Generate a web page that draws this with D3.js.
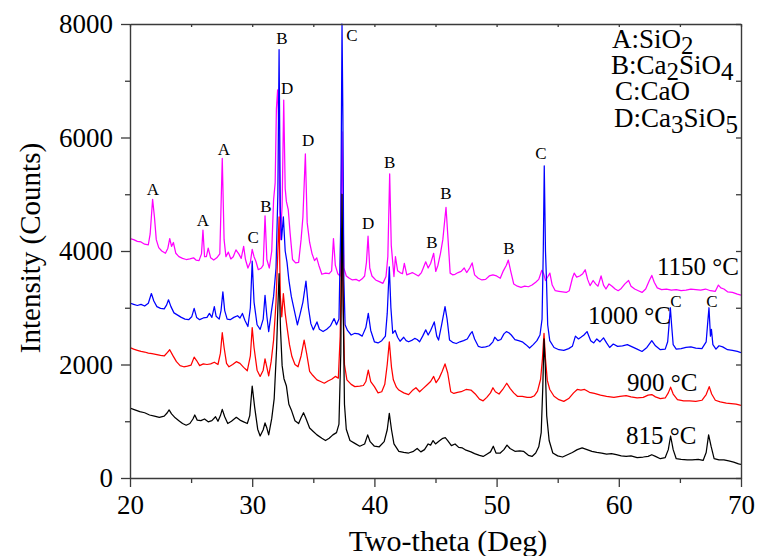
<!DOCTYPE html>
<html>
<head>
<meta charset="utf-8">
<script src="https://cdn.jsdelivr.net/npm/d3@7/dist/d3.min.js"></script>
<style>
  html, body { margin: 0; padding: 0; background: #fff; }
  svg { display: block; font-family: "Liberation Serif", "Times New Roman", serif; }
</style>
</head>
<body>
<svg id="chart" width="757" height="556"></svg>
<script>
// XRD patterns of samples calcined at different temperatures: [2-theta (deg), intensity (counts)]
const s815 = [[20.0,1230],[20.4,1200],[20.8,1170],[21.2,1150],[21.6,1110],[22.0,1090],[22.4,1070],[22.8,1090],[23.05,1150],[23.2,1200],[23.4,1130],[23.7,1060],[24.0,1010],[24.3,960],[24.6,930],[24.9,960],[25.15,1040],[25.3,1110],[25.5,1020],[25.8,1010],[26.1,1040],[26.4,990],[26.7,1010],[27.0,1080],[27.2,1000],[27.4,1100],[27.55,1210],[27.75,1080],[28.0,960],[28.3,1000],[28.7,1070],[29.0,1020],[29.3,990],[29.6,960],[29.8,1100],[30.0,1620],[30.2,1250],[30.45,860],[30.65,740],[30.9,850],[31.05,970],[31.2,880],[31.35,760],[31.6,1050],[31.8,1400],[32.0,2300],[32.1,3000],[32.2,3600],[32.32,2600],[32.45,1980],[32.6,1750],[32.8,1620],[33.0,1300],[33.2,1200],[33.5,1010],[33.8,960],[34.0,1060],[34.2,1150],[34.4,1050],[34.7,880],[35.0,820],[35.3,760],[35.7,700],[36.0,660],[36.3,700],[36.6,760],[36.9,800],[37.1,950],[37.25,2200],[37.35,5000],[37.45,3000],[37.55,1300],[37.7,860],[38.0,660],[38.4,610],[38.8,560],[39.2,600],[39.45,760],[39.65,640],[40.0,560],[40.4,550],[40.8,640],[41.05,850],[41.22,1140],[41.4,850],[41.6,600],[42.0,470],[42.4,450],[42.8,440],[43.2,470],[43.5,520],[43.8,460],[44.1,500],[44.4,600],[44.6,580],[44.8,660],[45.0,600],[45.3,650],[45.6,700],[45.8,710],[46.0,660],[46.3,570],[46.6,600],[46.9,540],[47.2,530],[47.5,490],[47.9,460],[48.2,430],[48.6,400],[48.9,380],[49.2,420],[49.5,460],[49.73,560],[49.95,440],[50.3,440],[50.6,500],[50.85,580],[51.1,520],[51.5,470],[51.9,480],[52.2,470],[52.6,400],[52.9,380],[53.2,440],[53.45,550],[53.65,800],[53.78,1600],[53.88,2450],[53.98,2000],[54.1,1100],[54.3,660],[54.6,440],[55.0,390],[55.4,370],[55.8,410],[56.2,450],[56.6,500],[57.0,530],[57.4,500],[57.8,470],[58.2,450],[58.6,440],[59.0,420],[59.4,430],[59.8,410],[60.2,390],[60.6,380],[61.0,390],[61.5,360],[62.0,370],[62.4,380],[62.7,410],[63.0,380],[63.4,340],[63.8,360],[64.05,500],[64.24,740],[64.45,500],[64.7,340],[65.1,330],[65.6,320],[66.0,320],[66.5,330],[66.9,310],[67.15,450],[67.35,760],[67.55,560],[67.8,340],[68.2,320],[68.6,320],[69.0,300],[69.4,280],[69.8,250],[70.0,240]];

const s900 = [[20.0,2300],[20.3,2270],[20.6,2250],[20.9,2230],[21.2,2220],[21.5,2200],[21.8,2190],[22.1,2180],[22.5,2160],[22.8,2150],[23.05,2210],[23.25,2260],[23.5,2160],[23.8,2050],[24.1,1980],[24.4,1960],[24.7,1970],[25.0,1990],[25.25,2130],[25.45,2070],[25.7,1980],[26.0,2010],[26.3,2000],[26.6,2010],[26.9,2040],[27.2,2000],[27.4,2200],[27.55,2560],[27.7,2300],[27.9,2020],[28.1,1960],[28.4,2000],[28.7,2050],[29.0,2020],[29.3,1950],[29.6,1890],[29.85,2150],[30.0,2650],[30.15,2300],[30.4,1900],[30.65,1790],[30.9,1900],[31.05,2100],[31.2,1950],[31.35,1800],[31.55,2050],[31.75,2430],[31.95,3100],[32.1,4000],[32.2,4600],[32.3,3200],[32.42,2840],[32.55,3250],[32.7,2900],[32.85,2660],[33.05,2350],[33.25,2140],[33.5,2000],[33.75,1960],[34.0,2150],[34.25,2430],[34.45,2200],[34.7,1880],[34.95,1810],[35.3,1730],[35.6,1700],[35.9,1670],[36.2,1710],[36.5,1740],[36.8,1790],[37.05,1760],[37.2,2500],[37.35,4400],[37.45,3000],[37.55,2000],[37.75,1730],[38.1,1650],[38.4,1610],[38.8,1620],[39.1,1630],[39.3,1700],[39.5,1900],[39.7,1700],[40.0,1610],[40.3,1500],[40.6,1520],[40.85,1650],[41.05,2000],[41.22,2400],[41.4,1950],[41.55,1730],[41.8,1600],[42.0,1550],[42.4,1500],[42.8,1470],[43.1,1540],[43.4,1590],[43.7,1520],[44.0,1580],[44.3,1640],[44.6,1700],[44.85,1790],[45.05,1680],[45.3,1760],[45.55,1880],[45.78,2010],[46.0,1850],[46.25,1520],[46.5,1490],[46.8,1510],[47.1,1520],[47.5,1560],[47.9,1550],[48.3,1470],[48.6,1390],[48.9,1360],[49.2,1420],[49.5,1500],[49.7,1590],[49.9,1520],[50.2,1480],[50.5,1560],[50.83,1670],[51.1,1580],[51.4,1500],[51.7,1440],[52.1,1440],[52.5,1420],[52.8,1420],[53.1,1450],[53.35,1530],[53.6,1740],[53.75,2100],[53.88,2550],[54.0,2100],[54.15,1720],[54.35,1560],[54.7,1440],[55.1,1380],[55.5,1350],[55.9,1400],[56.3,1500],[56.6,1560],[56.9,1550],[57.2,1560],[57.6,1510],[58.0,1490],[58.5,1460],[59.0,1440],[59.6,1420],[60.1,1440],[60.6,1450],[61.0,1430],[61.5,1410],[62.0,1420],[62.4,1460],[62.7,1470],[63.0,1430],[63.4,1400],[63.8,1410],[64.05,1500],[64.24,1600],[64.45,1480],[64.8,1380],[65.3,1360],[65.8,1360],[66.3,1350],[66.8,1370],[67.15,1470],[67.4,1610],[67.6,1480],[67.9,1370],[68.3,1340],[68.8,1320],[69.2,1310],[69.6,1300],[70.0,1280]];

const s1000 = [[20.0,3080],[20.3,3060],[20.6,3040],[20.9,3060],[21.2,3030],[21.5,3080],[21.75,3250],[21.95,3120],[22.2,3020],[22.5,2990],[22.8,2980],[23.0,3050],[23.15,3140],[23.35,3020],[23.6,2910],[23.9,2870],[24.2,2830],[24.5,2800],[24.8,2790],[25.05,2840],[25.25,2990],[25.45,2830],[25.7,2790],[26.0,2820],[26.3,2830],[26.5,2900],[26.7,2830],[26.9,3020],[27.05,2850],[27.3,2800],[27.45,2950],[27.6,3280],[27.75,2950],[27.95,2800],[28.2,2790],[28.5,2830],[28.8,2860],[29.0,2820],[29.2,2900],[29.4,2780],[29.65,2670],[29.85,3000],[30.0,3820],[30.15,3100],[30.4,2700],[30.65,2620],[30.9,2800],[31.05,3220],[31.2,2850],[31.35,2580],[31.55,2900],[31.75,3200],[31.95,3700],[32.1,5000],[32.2,7550],[32.3,4700],[32.4,4200],[32.55,4600],[32.7,4000],[32.85,3800],[33.0,3490],[33.2,3200],[33.45,2950],[33.7,2700],[33.9,2870],[34.15,3100],[34.4,3470],[34.6,3000],[34.8,2720],[35.0,2610],[35.3,2750],[35.5,2620],[35.8,2580],[36.1,2620],[36.4,2680],[36.7,2810],[36.9,2700],[37.1,2800],[37.25,4500],[37.35,8000],[37.42,6400],[37.5,3500],[37.6,2700],[37.8,2600],[38.1,2520],[38.4,2550],[38.7,2540],[39.0,2500],[39.3,2650],[39.5,2900],[39.7,2600],[40.0,2400],[40.3,2380],[40.6,2420],[40.9,2500],[41.05,2900],[41.22,3720],[41.35,3000],[41.5,2550],[41.7,2600],[41.9,2480],[42.1,2410],[42.4,2480],[42.6,2420],[42.8,2400],[43.1,2430],[43.3,2460],[43.5,2440],[43.7,2400],[43.95,2500],[44.2,2610],[44.4,2520],[44.6,2600],[44.9,2750],[45.1,2500],[45.25,2430],[45.5,2700],[45.78,3020],[45.95,2800],[46.15,2430],[46.4,2390],[46.7,2370],[47.0,2400],[47.3,2420],[47.6,2450],[47.85,2540],[48.0,2580],[48.2,2450],[48.5,2320],[48.8,2300],[49.1,2310],[49.4,2330],[49.7,2400],[49.85,2480],[50.1,2420],[50.35,2440],[50.6,2540],[50.8,2580],[51.0,2560],[51.2,2520],[51.5,2440],[51.8,2420],[52.1,2400],[52.4,2350],[52.7,2290],[53.0,2350],[53.3,2420],[53.55,2520],[53.72,2800],[53.82,4000],[53.9,5500],[54.0,4000],[54.08,3500],[54.18,2700],[54.35,2420],[54.7,2300],[55.1,2260],[55.5,2250],[55.9,2280],[56.2,2320],[56.45,2500],[56.7,2450],[56.9,2480],[57.15,2520],[57.4,2580],[57.7,2420],[57.95,2380],[58.2,2450],[58.45,2400],[58.75,2470],[59.0,2380],[59.25,2300],[59.55,2360],[59.9,2320],[60.3,2330],[60.7,2350],[61.1,2310],[61.5,2270],[61.9,2230],[62.3,2300],[62.7,2420],[63.0,2330],[63.4,2260],[63.8,2270],[64.0,2400],[64.15,2800],[64.22,3000],[64.32,2700],[64.45,2350],[64.7,2270],[65.1,2280],[65.5,2300],[65.9,2310],[66.3,2290],[66.8,2280],[67.15,2400],[67.3,2800],[67.38,3000],[67.5,2500],[67.58,2620],[67.7,2350],[67.95,2270],[68.2,2330],[68.5,2310],[68.9,2260],[69.3,2250],[69.7,2230],[70.0,2210]];

const s1150 = [[20.0,4220],[20.3,4200],[20.6,4170],[20.9,4160],[21.2,4120],[21.5,4110],[21.65,4300],[21.85,4910],[22.0,4600],[22.15,4200],[22.35,4060],[22.6,4000],[22.9,3960],[23.1,4050],[23.25,4220],[23.4,4080],[23.55,4150],[23.75,3960],[24.0,3900],[24.3,3870],[24.6,3850],[24.9,3860],[25.2,3880],[25.4,3840],[25.65,3830],[25.85,3950],[25.97,4370],[26.1,3900],[26.25,3900],[26.4,4050],[26.6,3880],[26.85,3840],[27.1,3880],[27.35,3950],[27.55,5630],[27.7,4200],[27.85,3900],[28.05,3980],[28.25,3860],[28.45,3900],[28.67,4020],[28.9,3950],[29.1,3870],[29.3,4080],[29.45,3850],[29.65,3700],[29.85,3800],[30.0,4030],[30.15,3900],[30.3,3820],[30.5,3670],[30.75,3700],[30.9,3750],[31.05,4620],[31.2,3850],[31.4,3700],[31.6,4000],[31.75,4900],[31.88,5200],[31.98,6500],[32.08,6840],[32.18,6200],[32.3,4200],[32.45,4800],[32.58,6660],[32.7,5100],[32.8,4870],[32.95,4730],[33.1,4320],[33.3,3850],[33.55,3790],[33.8,3800],[34.0,4200],[34.15,4600],[34.35,5710],[34.5,4500],[34.7,4150],[34.9,3950],[35.1,3830],[35.28,3880],[35.45,3750],[35.7,3590],[36.0,3610],[36.3,3600],[36.5,3650],[36.65,4220],[36.8,3750],[37.0,3600],[37.2,3560],[37.35,6100],[37.5,3700],[37.7,3560],[37.95,3520],[38.2,3490],[38.5,3500],[38.75,3470],[39.0,3510],[39.2,3560],[39.35,3800],[39.48,4260],[39.62,3700],[39.8,3560],[40.1,3490],[40.4,3460],[40.7,3430],[40.95,3550],[41.1,3900],[41.25,5360],[41.38,4100],[41.5,3800],[41.6,3550],[41.72,3900],[41.9,3650],[42.1,3620],[42.3,3600],[42.45,3780],[42.65,3580],[42.9,3600],[43.1,3620],[43.35,3590],[43.6,3560],[43.85,3620],[44.0,3700],[44.2,3810],[44.4,3700],[44.6,3780],[44.85,3960],[45.02,3640],[45.2,3750],[45.4,3950],[45.6,4200],[45.86,4770],[46.0,4300],[46.2,3610],[46.4,3580],[46.6,3590],[46.85,3620],[47.1,3640],[47.35,3700],[47.55,3620],[47.8,3700],[48.0,3790],[48.2,3580],[48.5,3520],[48.8,3490],[49.1,3500],[49.4,3560],[49.7,3580],[50.0,3560],[50.3,3520],[50.55,3650],[50.8,3750],[50.96,3840],[51.15,3650],[51.4,3420],[51.7,3380],[52.0,3360],[52.3,3380],[52.6,3370],[52.9,3400],[53.2,3450],[53.45,3500],[53.7,3660],[53.85,3600],[54.0,3480],[54.2,3550],[54.36,3610],[54.55,3400],[54.8,3300],[55.1,3290],[55.4,3280],[55.7,3270],[55.95,3300],[56.2,3520],[56.35,3610],[56.55,3540],[56.8,3560],[57.05,3600],[57.25,3670],[57.45,3500],[57.65,3390],[57.9,3480],[58.1,3420],[58.3,3380],[58.55,3560],[58.75,3400],[58.95,3330],[59.2,3420],[59.45,3380],[59.7,3330],[59.95,3300],[60.2,3340],[60.5,3420],[60.8,3480],[61.0,3380],[61.3,3330],[61.6,3300],[61.9,3270],[62.2,3330],[62.5,3480],[62.7,3570],[62.9,3450],[63.15,3350],[63.5,3320],[63.9,3330],[64.3,3310],[64.7,3320],[65.1,3300],[65.5,3310],[65.9,3330],[66.3,3320],[66.7,3310],[67.1,3330],[67.5,3300],[67.9,3290],[68.15,3400],[68.35,3350],[68.6,3330],[68.9,3280],[69.3,3270],[69.7,3240],[70.0,3220]];

// Series in drawing order (last drawn on top)
const seriesNames = ["1150 °C", "1000 °C", "900 °C", "815 °C"];
const seriesData = [s1150, s1000, s900, s815];
const seriesColors = ["#ff00ff", "#0000ff", "#ff0000", "#000000"];

// Peak assignments: [2-theta of label centre, intensity at label baseline, phase letter]
const peakLabels = [
  [21.88, 4990, "A"], [25.97, 4440, "A"], [27.69, 5690, "A"], [30.07, 4140, "C"],
  [31.13, 4690, "B"], [32.44, 7650, "B"], [32.85, 6770, "D"], [34.57, 5850, "D"],
  [38.17, 7700, "C"], [39.48, 4390, "D"], [41.25, 5460, "B"], [44.71, 4050, "B"],
  [45.86, 4920, "B"], [51.01, 3950, "B"], [53.63, 5620, "C"], [64.68, 3020, "C"],
  [67.63, 3010, "C"]
];

// Phase key entries: formula parts [text, isSubscript]
const phaseKey = [
  [["A:SiO", false], ["2", true]],
  [["B:Ca", false], ["2", true], ["SiO", false], ["4", true]],
  [["C:CaO", false]],
  [["D:Ca", false], ["3", true], ["SiO", false], ["5", true]]
];

// Temperature captions: [caption, 2-theta of left edge, intensity at baseline]
const tempLabels = [
  ["1150 °C", 63.13, 3577], ["1000 °C", 57.48, 2713], ["900 °C", 60.67, 1533], ["815 °C", 60.59, 599]
];

const xTicks = [20, 30, 40, 50, 60, 70];
const xMinor = [25, 35, 45, 55, 65];
const yTicks = [0, 2000, 4000, 6000, 8000];
const yMinor = [1000, 3000, 5000, 7000];

const m = { left: 130, right: 741, top: 24, bottom: 478 };
const serif = "'Liberation Serif', 'Times New Roman', serif";
const svg = d3.select("#chart");

const x = d3.scaleLinear().domain([20, 70]).range([m.left, m.right]);
const y = d3.scaleLinear().domain([0, 8000]).range([m.bottom, m.top]);

svg.append("defs").append("clipPath").attr("id", "plotClip")
  .append("rect").attr("x", m.left).attr("y", m.top - 1)
  .attr("width", m.right - m.left).attr("height", m.bottom - m.top + 1);

// Diffraction curves
const line = d3.line().x(d => x(d[0])).y(d => y(d[1]));
const curves = svg.append("g").attr("clip-path", "url(#plotClip)");
seriesData.forEach((data, i) => {
  curves.append("path")
    .datum(data)
    .attr("fill", "none")
    .attr("stroke", seriesColors[i])
    .attr("stroke-width", 1.25)
    .attr("stroke-linejoin", "round")
    .attr("d", line);
});

// Axes
const axisColor = "#3a3a3a";
function styleAxis(g, labels) {
  g.attr("font-family", serif);
  g.select(".domain").attr("stroke", axisColor).attr("stroke-width", 1.4);
  g.selectAll(".tick line").attr("stroke", axisColor).attr("stroke-width", 1.3);
  g.selectAll(".tick text").attr("fill", "#000").attr("font-size", 27).attr("font-family", serif);
  if (!labels) g.selectAll(".tick text").remove();
}

svg.append("g").attr("transform", `translate(0,${m.bottom})`)
  .call(d3.axisBottom(x).tickValues(xTicks).tickSize(9).tickSizeOuter(0).tickPadding(8).tickFormat(d3.format("d")))
  .call(g => styleAxis(g, true));
svg.append("g").attr("transform", `translate(0,${m.bottom})`)
  .call(d3.axisBottom(x).tickValues(xMinor).tickSize(5).tickSizeOuter(0))
  .call(g => { styleAxis(g, false); g.select(".domain").remove(); });

svg.append("g").attr("transform", `translate(${m.left},0)`)
  .call(d3.axisLeft(y).tickValues(yTicks).tickSize(9).tickSizeOuter(0).tickPadding(8).tickFormat(d3.format("d")))
  .call(g => styleAxis(g, true));
svg.append("g").attr("transform", `translate(${m.left},0)`)
  .call(d3.axisLeft(y).tickValues(yMinor).tickSize(5).tickSizeOuter(0))
  .call(g => { styleAxis(g, false); g.select(".domain").remove(); });

svg.append("g").attr("transform", `translate(0,${m.top})`)
  .call(d3.axisTop(x).tickValues(xTicks.concat(xMinor)).tickSize(-3).tickSizeOuter(0))
  .call(g => styleAxis(g, false));

svg.append("g").attr("transform", `translate(${m.right},0)`)
  .call(d3.axisRight(y).tickValues(yTicks.concat(yMinor)).tickSize(-5).tickSizeOuter(0))
  .call(g => styleAxis(g, false));

// Axis titles
svg.append("text")
  .attr("x", 448).attr("y", 551)
  .attr("text-anchor", "middle").attr("font-size", 30).attr("font-family", serif)
  .text("Two-theta (Deg)");
svg.append("text")
  .attr("transform", "translate(40,248) rotate(-90)")
  .attr("text-anchor", "middle").attr("font-size", 29).attr("font-family", serif)
  .text("Intensity (Counts)");

// Peak letters
svg.append("g").selectAll("text").data(peakLabels).join("text")
  .attr("x", d => x(d[0])).attr("y", d => y(d[1]))
  .attr("text-anchor", "middle").attr("font-size", 17).attr("font-family", serif)
  .text(d => d[2]);

// Phase key
const key = svg.append("g").attr("font-family", serif);
const keyX = [612, 611, 615, 614];
const keyY = [48, 74, 100, 127];
phaseKey.forEach((parts, i) => {
  const t = key.append("text").attr("x", keyX[i]).attr("y", keyY[i]).attr("font-size", 27);
  let prevSub = false;
  parts.forEach(([s, sub]) => {
    t.append("tspan")
      .attr("dy", sub ? 6 : (prevSub ? -6 : 0))
      .attr("font-size", sub ? 25 : 27)
      .text(s);
    prevSub = sub;
  });
});

// Temperature captions
svg.append("g").selectAll("text").data(tempLabels).join("text")
  .attr("x", d => x(d[1])).attr("y", d => y(d[2]))
  .attr("font-size", 25).attr("font-family", serif)
  .text(d => d[0]);
</script>
</body>
</html>
